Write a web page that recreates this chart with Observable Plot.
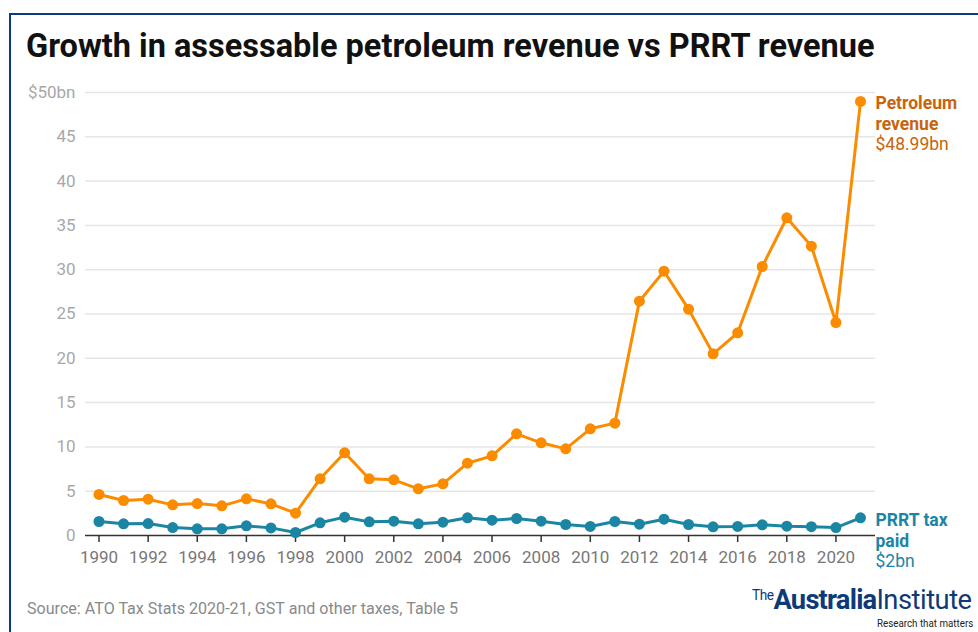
<!DOCTYPE html>
<html>
<head>
<meta charset="utf-8">
<script src="https://cdn.jsdelivr.net/npm/d3@7"></script>
<script src="https://cdn.jsdelivr.net/npm/@observablehq/plot@0.6"></script>
<style>
  html, body { margin: 0; padding: 0; background: #fff; }
  body { width: 978px; height: 632px; position: relative; overflow: hidden; font-family: Roboto, "Noto Sans", sans-serif; }
  #frame { position: absolute; left: 9px; top: 13px; width: 1000px; height: 700px; border-left: 2px solid #0c3a80; border-top: 2px solid #0c3a80; }
  #title { position: absolute; left: 26px; top: 27px; font-size: 32.5px; font-weight: 700; color: #111; white-space: nowrap; }
  #chart { position: absolute; left: 0; top: 80px; }
  #source { position: absolute; left: 27px; top: 599px; font-size: 16.1px; color: #8a8a8a; white-space: nowrap; }
  #logo { position: absolute; left: 752px; top: 583px; color: #0d3a78; white-space: nowrap; transform-origin: 0 0; transform: scaleX(0.975); }
  #logo .the { font-size: 14px; vertical-align: 9px; letter-spacing: -0.5px; }
  #logo .aus { font-size: 28px; font-weight: 700; letter-spacing: -0.8px; }
  #logo .inst { font-size: 28px; font-weight: 400; letter-spacing: -0.5px; }
  #tag { position: absolute; left: 877px; top: 617px; font-size: 11.5px; line-height: 13px; color: #222; white-space: nowrap; transform-origin: 0 0; transform: scaleX(0.85); }
</style>
</head>
<body>
<div id="frame"></div>
<div id="title">Growth in assessable petroleum revenue vs PRRT revenue</div>
<div id="chart"></div>
<div id="source">Source: ATO Tax Stats 2020-21, GST and other taxes, Table 5</div>
<div id="logo"><span class="the">The</span><span class="aus">Australia</span><span class="inst">Institute</span></div>
<div id="tag">Research that matters</div>
<script>
const years = [1990, 1991, 1992, 1993, 1994, 1995, 1996, 1997, 1998, 1999, 2000, 2001, 2002, 2003, 2004, 2005,
               2006, 2007, 2008, 2009, 2010, 2011, 2012, 2013, 2014, 2015, 2016, 2017, 2018, 2019, 2020, 2021];
const petroleum = [4.63, 3.95, 4.10, 3.46, 3.61, 3.35, 4.14, 3.57, 2.52, 6.40, 9.33, 6.40, 6.28, 5.27, 5.83, 8.16,
                   8.99, 11.48, 10.46, 9.78, 12.04, 12.68, 26.45, 29.83, 25.55, 20.50, 22.88, 30.36, 35.86, 32.66, 24.04, 48.99];
const prrt = [1.58, 1.32, 1.35, 0.90, 0.75, 0.75, 1.09, 0.86, 0.34, 1.43, 2.07, 1.54, 1.62, 1.32, 1.50, 2.00,
              1.73, 1.92, 1.62, 1.24, 1.02, 1.58, 1.28, 1.84, 1.24, 0.98, 1.02, 1.20, 1.05, 1.00, 0.90, 2.00];
const yTicks = [0, 5, 10, 15, 20, 25, 30, 35, 40, 45, 50];
const xTicks = [1990, 1992, 1994, 1996, 1998, 2000, 2002, 2004, 2006, 2008, 2010, 2012, 2014, 2016, 2018, 2020];
const seriesNames = ["Petroleum\nrevenue", "PRRT tax\npaid"];
const seriesValueLabels = ["$48.99bn", "$2bn"];
const lineColors = ["#fb8c00", "#1b86a3"];
const labelColors = ["#c8640c", "#1b86a3"];

const petroData = years.map((y, i) => ({year: y, value: petroleum[i]}));
const prrtData = years.map((y, i) => ({year: y, value: prrt[i]}));
const lastIdx = years.length - 1;
const endLabels = [
  {year: years[lastIdx], value: petroleum[lastIdx], name: seriesNames[0], val: seriesValueLabels[0], color: labelColors[0]},
  {year: years[lastIdx], value: prrt[lastIdx], name: seriesNames[1], val: seriesValueLabels[1], color: labelColors[1]}
];

const chart = Plot.plot({
  width: 978,
  height: 500,
  marginTop: 12,
  marginBottom: 45,
  marginLeft: 85,
  marginRight: 103,
  insetLeft: 13.5,
  insetRight: 15,
  style: {fontFamily: "Roboto, sans-serif", fontSize: "17px", background: "transparent", overflow: "visible"},
  x: {domain: [1990, 2021]},
  y: {domain: [0, 50]},
  marks: [
    Plot.ruleY(yTicks.filter(d => d > 0), {stroke: "#e6e6e6", strokeWidth: 1.5}),
    Plot.axisY(yTicks, {tickSize: 0, tickPadding: 10, fill: "#a8a8a8", fontSize: 17,
      tickFormat: d => d === 50 ? "$50bn" : String(d), label: null}),
    Plot.axisX(xTicks, {tickSize: 7, tickPadding: 8, stroke: "#333", strokeWidth: 1.5, fill: "#777", fontSize: 17,
      tickFormat: d => String(d), label: null}),
    Plot.ruleY([0], {stroke: "#333", strokeWidth: 1.5}),
    Plot.line(petroData, {x: "year", y: "value", stroke: lineColors[0], strokeWidth: 3}),
    Plot.dot(petroData, {x: "year", y: "value", r: 5.5, fill: lineColors[0]}),
    Plot.line(prrtData, {x: "year", y: "value", stroke: lineColors[1], strokeWidth: 3}),
    Plot.dot(prrtData, {x: "year", y: "value", r: 5.5, fill: lineColors[1]}),
    Plot.text(endLabels, {x: "year", y: "value", text: "name", fill: "color", textAnchor: "start",
      lineAnchor: "top", dx: 15, dy: -7, fontWeight: "bold", fontSize: 17.5, lineHeight: 1.2}),
    Plot.text(endLabels, {x: "year", y: "value", text: "val", fill: "color", textAnchor: "start",
      lineAnchor: "top", dx: 15, dy: 36.5, fontSize: 17.5})
  ]
});
document.getElementById("chart").appendChild(chart);
</script>
</body>
</html>
